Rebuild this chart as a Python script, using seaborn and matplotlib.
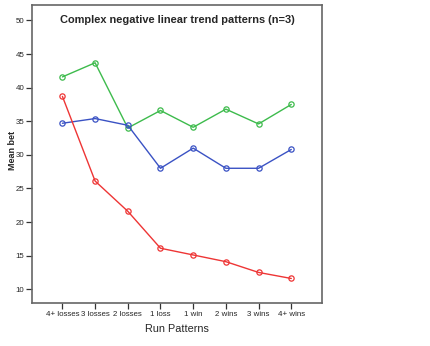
import matplotlib
matplotlib.use("Agg")
import matplotlib.pyplot as plt
import seaborn as sns
import pandas as pd

categories = ["4+ losses", "3 losses", "2 losses", "1 loss", "1 win", "2 wins", "3 wins", "4+ wins"]
red_values = [38.7, 26.1, 21.6, 16.1, 15.1, 14.1, 12.5, 11.6]
green_values = [41.6, 43.7, 34.0, 36.6, 34.1, 36.8, 34.6, 37.5]
blue_values = [34.7, 35.4, 34.4, 28.0, 31.0, 28.0, 28.0, 30.8]
y_ticks = [10, 15, 20, 25, 30, 35, 40, 45, 50]

sns.set_style("white")
plt.rcParams['font.family'] = ['Liberation Sans', 'DejaVu Sans']

rows = []
for name, vals in [("blue", blue_values), ("green", green_values), ("red", red_values)]:
    for i, (c, v) in enumerate(zip(categories, vals)):
        rows.append({"series": name, "pos": i, "cat": c, "value": v})
df = pd.DataFrame(rows)

palette = {"red": "#ee3535", "green": "#3dbb4c", "blue": "#3a52c4"}

fig = plt.figure(figsize=(4.31, 3.46), dpi=100)
ax = fig.add_axes([32/431, (346-303)/346, 290/431, 298/346])

for name in ["green", "blue", "red"]:
    sub = df[df.series == name]
    sns.lineplot(data=sub, x="pos", y="value", ax=ax, color=palette[name],
                 linewidth=1.0, marker="o", markersize=3.8, markerfacecolor="none",
                 markeredgecolor=palette[name], markeredgewidth=0.9, legend=False)

ax.set_xlim(-0.93, 7.94)
ax.set_ylim(7.95, 52.3)
ax.set_xticks(range(len(categories)))
ax.set_xticklabels(categories, fontsize=5.7)
ax.set_yticks(y_ticks)
ax.set_yticklabels([str(t) for t in y_ticks], fontsize=5.7)
ax.tick_params(axis="both", direction="out", length=4, width=0.9, color="#333333", pad=1.5,
               bottom=True, left=True)
ax.set_xlabel("Run Patterns", fontsize=7.8)
ax.xaxis.set_label_coords(0.5, -(334 - 303) / 298)
ax.xaxis.label.set_va("bottom")
ax.set_ylabel("Mean bet", fontsize=6.5, fontweight="bold")
ax.yaxis.set_label_coords((17 - 32) / 290, (303 - 150.5) / 298)
for s in ax.spines.values():
    s.set_color("#666666")
    s.set_linewidth(1.2)
    s.set_visible(True)
ax.text(0.5, 0.95, "Complex negative linear trend patterns (n=3)", transform=ax.transAxes,
        ha="center", va="center", fontsize=7.9, fontweight="bold")

fig.savefig("out.png", dpi=100)
